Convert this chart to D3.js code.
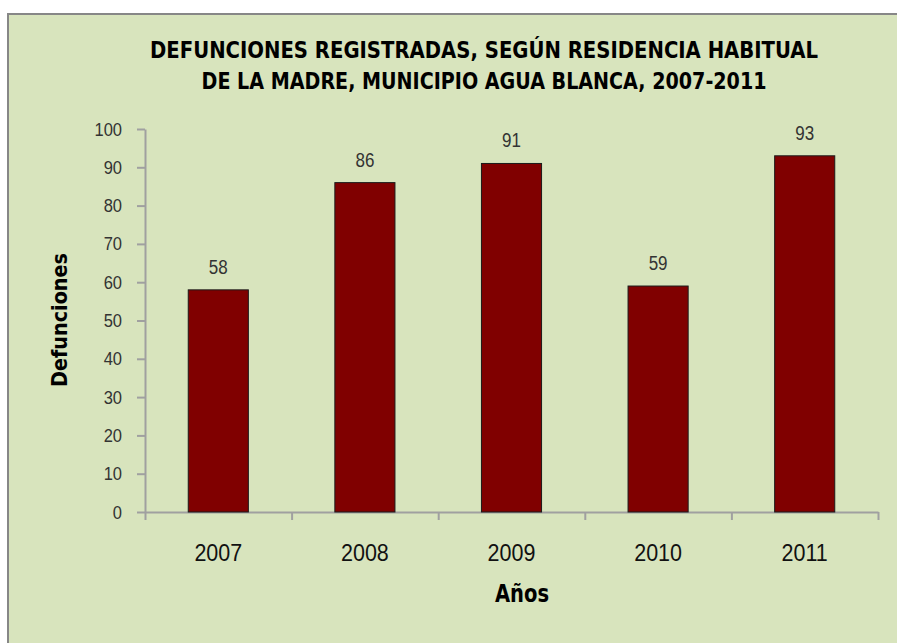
<!DOCTYPE html>
<meta charset="utf-8">
<head>
<style>
body { margin: 0; background: #fff; overflow: hidden; }
svg { display: block; }
.axis path, .axis line { stroke: #a0a0a0; stroke-width: 2; }
.axis text { font: 16.5px "Liberation Sans", Arial, sans-serif; fill: #333; }
.narrow { font-family: "Liberation Sans Narrow", "Arial Narrow", "DejaVu Sans Condensed", sans-serif; font-weight: bold; fill: #000; }
</style>
</head>
<body>
<svg width="897" height="643"></svg>
<script src="https://d3js.org/d3.v7.min.js"></script>
<script>

var years = ["2007", "2008", "2009", "2010", "2011"];
var defunciones = [58, 86, 91, 59, 93];
var yTicks = [0, 10, 20, 30, 40, 50, 60, 70, 80, 90, 100];
var titleLines = ["DEFUNCIONES REGISTRADAS, SEGÚN RESIDENCIA HABITUAL",
                  "DE LA MADRE, MUNICIPIO AGUA BLANCA, 2007-2011"];

var svg = d3.select("svg"),
    stretch = 1.14;

// chart area background (runs off the right and bottom edges)
svg.append("rect")
    .attr("x", 8).attr("y", 14)
    .attr("width", 889).attr("height", 629)
    .attr("fill", "#d8e4bd");

// only the top and left borders are visible
svg.append("path")
    .attr("d", "M8,643V14H897")
    .attr("fill", "none")
    .attr("stroke", "#878787")
    .attr("stroke-width", 2);

var x = d3.scaleBand().domain(years).range([145, 878]).padding(0),
    xb = d3.scaleLinear().domain([0, years.length]).range([145, 878]),
    y = d3.scaleLinear().domain([0, 100]).range([512, 129]);

var barW = x.bandwidth() * 0.41;

// y axis
var yAxis = svg.append("g")
    .attr("class", "axis")
    .attr("transform", "translate(145,0)")
    .call(d3.axisLeft(y).tickValues(yTicks).tickSize(8).tickSizeOuter(0).tickPadding(15));
yAxis.selectAll("text").attr("transform", "scale(1," + stretch + ")");

// x axis (ticks between categories)
svg.append("g")
    .attr("class", "axis")
    .attr("transform", "translate(0,512)")
    .call(d3.axisBottom(xb).tickValues(d3.range(years.length + 1)).tickFormat("").tickSize(8).tickSizeOuter(0));

// bars
svg.selectAll(".bar")
    .data(defunciones)
    .enter().append("rect")
      .attr("class", "bar")
      .attr("x", function(d, i) { return x(years[i]) + (x.bandwidth() - barW) / 2; })
      .attr("y", function(d) { return y(d); })
      .attr("width", barW)
      .attr("height", function(d) { return y(0) - y(d); })
      .attr("fill", "#800000")
      .attr("stroke", "#1a1a1a")
      .attr("stroke-width", 1);

function stretchedText(px, py) {
  return svg.append("g")
    .attr("transform", "translate(" + px + "," + py + ") scale(1," + stretch + ")")
    .append("text")
      .attr("text-anchor", "middle");
}

// value labels
defunciones.forEach(function(d, i) {
  stretchedText(x(years[i]) + x.bandwidth() / 2, y(d) - 16)
    .style("font", "17px 'Liberation Sans', Arial, sans-serif")
    .attr("fill", "#333")
    .text(d);
});

// category labels
years.forEach(function(yr) {
  stretchedText(x(yr) + x.bandwidth() / 2, 561)
    .style("font", "21.5px 'Liberation Sans', Arial, sans-serif")
    .attr("fill", "#111")
    .text(yr);
});

// title
var titleW = [668, 565];
titleLines.forEach(function(t, i) {
  stretchedText(484, 58 + i * 31)
    .attr("class", "narrow")
    .style("font-size", "20.5px")
    .attr("textLength", titleW[i])
    .attr("lengthAdjust", "spacingAndGlyphs")
    .text(t);
});

// axis titles
stretchedText(522, 602)
  .attr("class", "narrow")
  .style("font-size", "21px")
  .attr("textLength", 54)
  .attr("lengthAdjust", "spacingAndGlyphs")
  .text("Años");

svg.append("text")
  .attr("class", "narrow")
  .attr("transform", "translate(67,320) rotate(-90)")
  .attr("text-anchor", "middle")
  .style("font-size", "22px")
  .attr("textLength", 134)
  .attr("lengthAdjust", "spacingAndGlyphs")
  .text("Defunciones");

</script>
</body>
</html>
